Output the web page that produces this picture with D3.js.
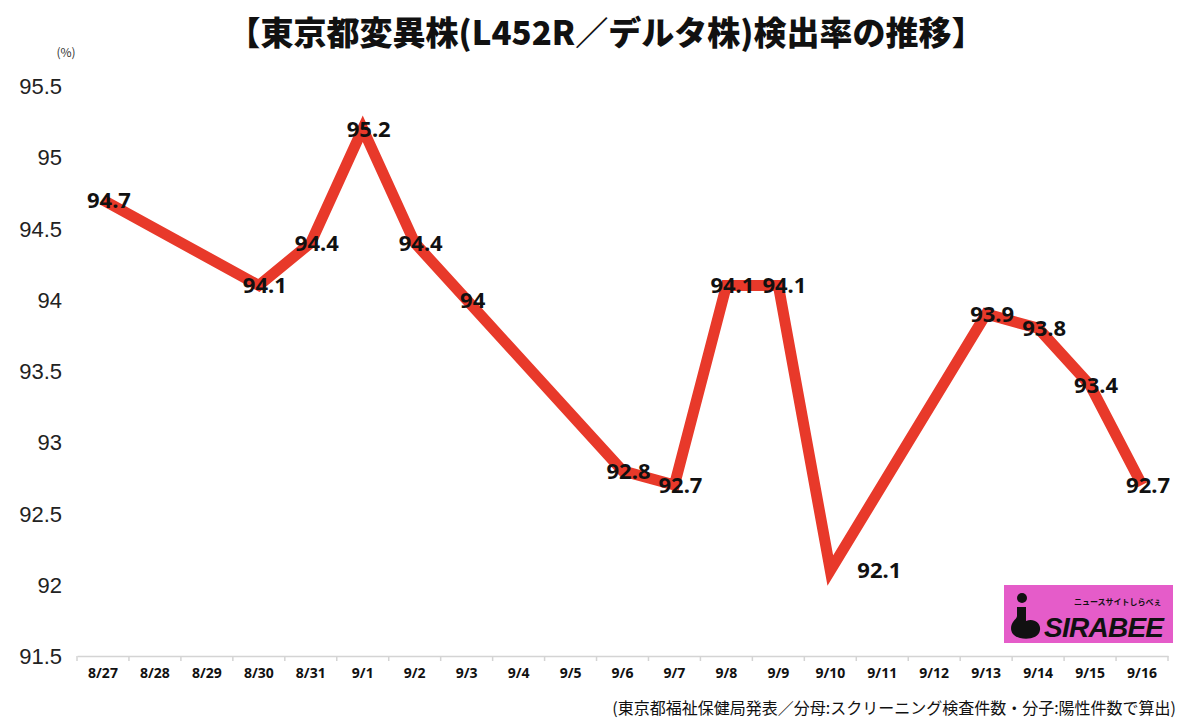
<!DOCTYPE html>
<html><head><meta charset="utf-8">
<script src="https://cdn.jsdelivr.net/npm/d3@7"></script>
<style>
html,body{margin:0;padding:0;background:#fff;}
svg{display:block;font-family:"Noto Sans CJK JP","Noto Sans",sans-serif;}
</style></head>
<body><svg id="c" width="1200" height="728"></svg>
<script>
const categories = ["8/27","8/28","8/29","8/30","8/31","9/1","9/2","9/3","9/4","9/5","9/6","9/7","9/8","9/9","9/10","9/11","9/12","9/13","9/14","9/15","9/16"];
const values = [94.7,null,null,94.1,94.4,95.2,94.4,94.0,null,null,92.8,92.7,94.1,94.1,92.1,null,null,93.9,93.8,93.4,92.7];
const yTicks = [91.5,92,92.5,93,93.5,94,94.5,95,95.5];
const yTickLabels = ["91.5","92","92.5","93","93.5","94","94.5","95","95.5"];
const titleText = "【東京都変異株(L452R／デルタ株)検出率の推移】";
const sourceText = "(東京都福祉保健局発表／分母:スクリーニング検査件数・分子:陽性件数で算出)";

(function(){
const svg = d3.select("#c");
const mL = 77, mR = 1168, mT = 86, mB = 656;
const x = d3.scaleBand().domain(categories).range([mL, mR]);
const y = d3.scaleLinear().domain([91.5, 95.5]).range([mB, mT]);

// title
svg.append("text").attr("x", 606).attr("y", 45).attr("text-anchor","middle")
  .attr("font-size", 33).attr("font-weight", 900).attr("fill","#111").text(titleText);
svg.append("text").attr("x", 66).attr("y", 57).attr("text-anchor","middle")
  .attr("font-size", 12).attr("fill","#333").text("(%)");

// y axis labels
const yAxis = d3.axisLeft(y).tickValues(yTicks).tickFormat((d,i)=>yTickLabels[i]).tickSize(0).tickPadding(0);
const gy = svg.append("g").attr("transform", `translate(62,0)`).call(yAxis);
gy.select(".domain").remove();
gy.selectAll("text").attr("font-size", 22).attr("fill","#222")
  .attr("font-family","'Liberation Sans',Arial,sans-serif").attr("dy","0.35em");

// x axis
const xAxis = d3.axisBottom(x).tickSize(0).tickPadding(12);
const gx = svg.append("g").attr("transform", `translate(0,${mB})`).call(xAxis);
gx.select(".domain").attr("stroke","#d4d4d4").attr("stroke-width",1.5);
gx.selectAll("text").attr("font-size", 14).attr("font-weight", 700).attr("fill","#111")
  .attr("font-family","'Noto Sans','Liberation Sans',sans-serif");
const bounds = categories.map(c=>x(c)).concat([mR]);
svg.append("g").selectAll("line").data(bounds).join("line")
  .attr("x1", d=>d).attr("x2", d=>d).attr("y1", mB).attr("y2", mB+5)
  .attr("stroke","#d4d4d4").attr("stroke-width",1.5);

// line
const pts = categories.map((c,i)=>({c, v: values[i]})).filter(d=>d.v!==null);
const line = d3.line().x(d=>x(d.c)+x.bandwidth()/2).y(d=>y(d.v));
svg.append("path").datum(pts).attr("d", line).attr("fill","none")
  .attr("stroke","#e8392a").attr("stroke-width", 11).attr("stroke-linejoin","miter").attr("stroke-miterlimit",10);

// labels
const minV = d3.min(pts, d=>d.v);
svg.append("g").selectAll("text").data(pts).join("text")
  .attr("x", d=>x(d.c)+x.bandwidth()/2 + (d.v===minV ? 49 : 6))
  .attr("y", d=>y(d.v))
  .attr("dy","0.36em").attr("text-anchor","middle")
  .attr("font-size", 22).attr("font-weight", 700).attr("fill","#111")
  .attr("font-family","'Noto Sans','Liberation Sans',sans-serif")
  .text(d=>d3.format("")(d.v));

// source
svg.append("text").attr("x", 1176).attr("y", 714).attr("text-anchor","end")
  .attr("font-size", 16).attr("fill","#111").text(sourceText);

// logo
const lg = svg.append("g").attr("transform","translate(1004,585)");
lg.append("rect").attr("width",169).attr("height",58).attr("fill","#e55cc9");
lg.append("circle").attr("cx",18).attr("cy",13).attr("r",5).attr("fill","#111");
lg.append("path").attr("d","M13,22 L22,22 L22,36 C30,33 37,38 36,45 C35,53 24,55 16,53 C7,51 5,43 9,37 C11,34 13,33 13,31 Z").attr("fill","#111");
lg.append("text").attr("x",40).attr("y",52).attr("font-size",28).attr("font-weight",900)
  .attr("font-style","italic").attr("fill","#111").attr("font-family","'Liberation Sans',Arial,sans-serif")
  .attr("textLength",120).text("SIRABEE");
lg.append("text").attr("x",70).attr("y",20).attr("font-size",8).attr("font-weight",700)
  .attr("fill","#111").text("ニュースサイトしらべぇ");
})();
</script></body></html>
